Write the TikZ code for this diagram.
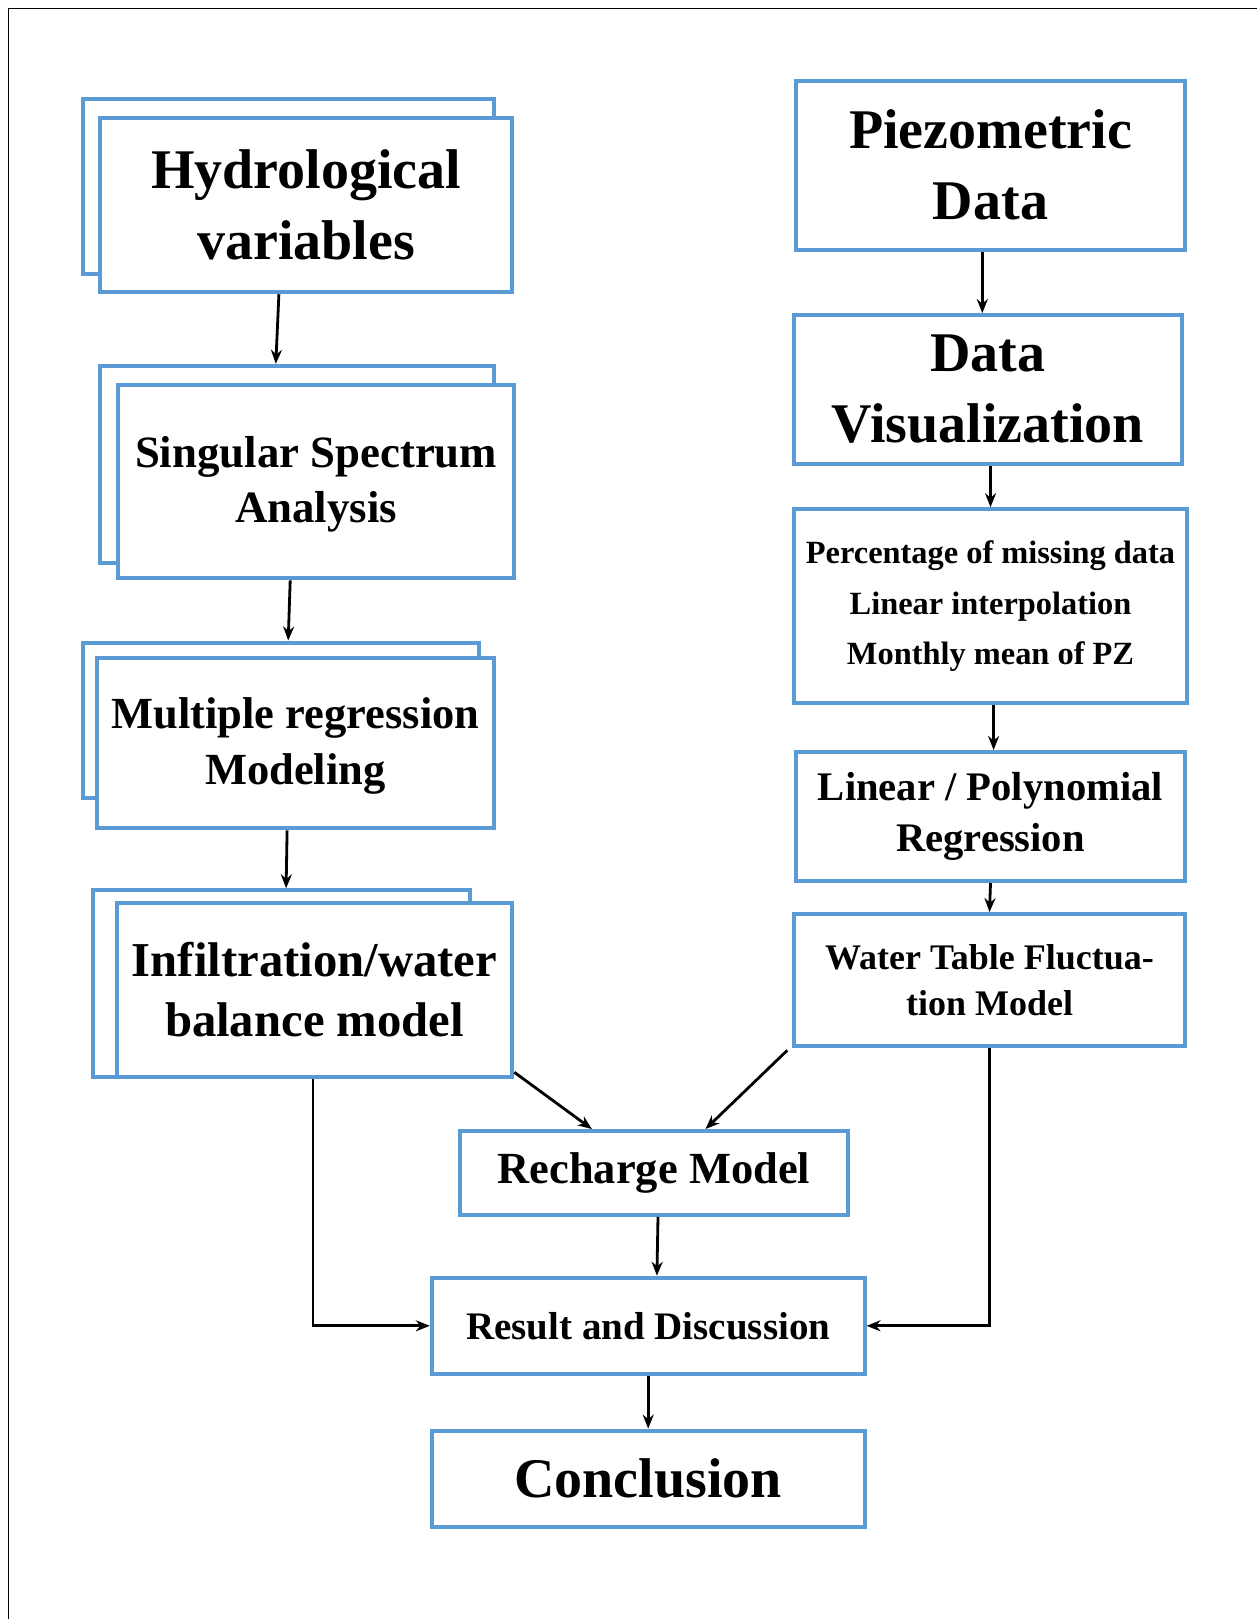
\documentclass[tikz,border=0pt]{standalone}
\usepackage{fontspec}
\setmainfont{Liberation Serif}
\usetikzlibrary{arrows.meta,calc}
\definecolor{boxblue}{RGB}{91,155,213}
\tikzset{
  box/.style={draw=boxblue, line width=4pt, fill=white, align=center, inner sep=0pt, text=black},
  arr/.style={line width=2.8pt, -{Stealth[length=14pt,width=11pt]}},
  big/.style={font=\bfseries\fontsize{56}{71}\selectfont},
}
\begin{document}
\begin{tikzpicture}[x=1pt,y=-1pt]
\useasboundingbox (0,0) rectangle (1257,1619);
\draw[line width=1.3pt] (8.3,1619) -- (8.3,8.3) -- (1257,8.3);

% left column
\node[box, minimum width=411pt, minimum height=174.5pt] (h1b) at (288.2,186.5) {};
\node[box, big, minimum width=412pt, minimum height=174.5pt] (h1) at (306.3,205) {Hydrological\\variables};

\node[box, minimum width=393.5pt, minimum height=197pt] (s1b) at (297,464.3) {};
\node[box, font=\bfseries\fontsize{44.8}{55}\selectfont, minimum width=396.6pt, minimum height=193pt, text depth=4pt] (s1) at (316.1,481.9) {Singular Spectrum\\Analysis};

\node[box, minimum width=396.7pt, minimum height=155pt] (m1b) at (281,720) {};
\node[box, font=\bfseries\fontsize{44.5}{56}\selectfont, minimum width=396.6pt, minimum height=170.4pt, text depth=4pt] (m1) at (295.4,743.2) {Multiple regression\\Modeling};

\node[box, minimum width=377pt, minimum height=187pt] (i1b) at (281.5,983.8) {};
\node[box, font=\bfseries\fontsize{48.7}{60}\selectfont, minimum width=395.6pt, minimum height=174.5pt] (i1) at (314.5,990) {Infiltration/water\\balance model};

% right column
\node[box, big, minimum width=388.3pt, minimum height=169.4pt] (pz) at (990.5,165.3) {Piezometric\\Data};
\node[box, big, minimum width=387.3pt, minimum height=148.7pt] (dv) at (988,389.4) {Data\\Visualization};
\node[box, font=\bfseries\fontsize{32.4}{50.6}\selectfont, minimum width=392.5pt, minimum height=194.2pt] (pc) at (990.5,606.3) {Percentage of missing data\\Linear interpolation\\Monthly mean of PZ};
\node[box, font=\bfseries\fontsize{40.6}{50.6}\selectfont, minimum width=388.3pt, minimum height=129pt] (lp) at (990.5,816.5) {Linear / Polynomial\\Regression};
\node[box, font=\bfseries\fontsize{36}{45.5}\selectfont, minimum width=390.4pt, minimum height=132.2pt] (wt) at (989.5,980.2) {Water Table Fluctua-\\tion Model};

% bottom
\node[box, font=\bfseries\fontsize{44.5}{55}\selectfont, minimum width=388.4pt, minimum height=83.7pt] (rc) at (653.8,1172.9) {Recharge Model};
\node[box, font=\bfseries\fontsize{39}{48}\selectfont, minimum width=432.7pt, minimum height=96.1pt] (rd) at (648.2,1325.8) {Result and Discussion};
\node[box, big, minimum width=432.7pt, minimum height=96pt] (cc) at (648.2,1478.6) {Conclusion};

% connectors
\draw[arr] ([xshift=-27.4pt]h1.south) -- ([xshift=-21.2pt]s1b.north);
\draw[arr] ([xshift=-25.9pt]s1.south) -- ([xshift=7.2pt]m1b.north);
\draw[arr] ([xshift=-8.3pt]m1.south) -- ([xshift=4.6pt]i1b.north);

\draw[arr] ([xshift=-8.2pt]pz.south) -- ([xshift=-5.7pt]dv.north);
\draw[arr] ([xshift=2.5pt]dv.south) -- (pc.north);
\draw[arr] ([xshift=3.1pt]pc.south) -- ([xshift=3.1pt]lp.north);
\draw[arr] (lp.south) -- (wt.north);

\draw[arr] ([yshift=7pt]i1.south east) -- ([xshift=-61.9pt]rc.north);
\draw[arr] ([xshift=-5pt,yshift=-2pt]wt.south west) -- ([xshift=51.7pt]rc.north);
\draw[arr] ([xshift=4.2pt]rc.south) -- ([xshift=8.7pt]rd.north);

\draw[arr] ([xshift=-1.5pt]i1.south) |- (rd.west);
\draw[arr] (wt.south) |- (rd.east);
\draw[arr] (rd.south) -- (cc.north);
\end{tikzpicture}
\end{document}
